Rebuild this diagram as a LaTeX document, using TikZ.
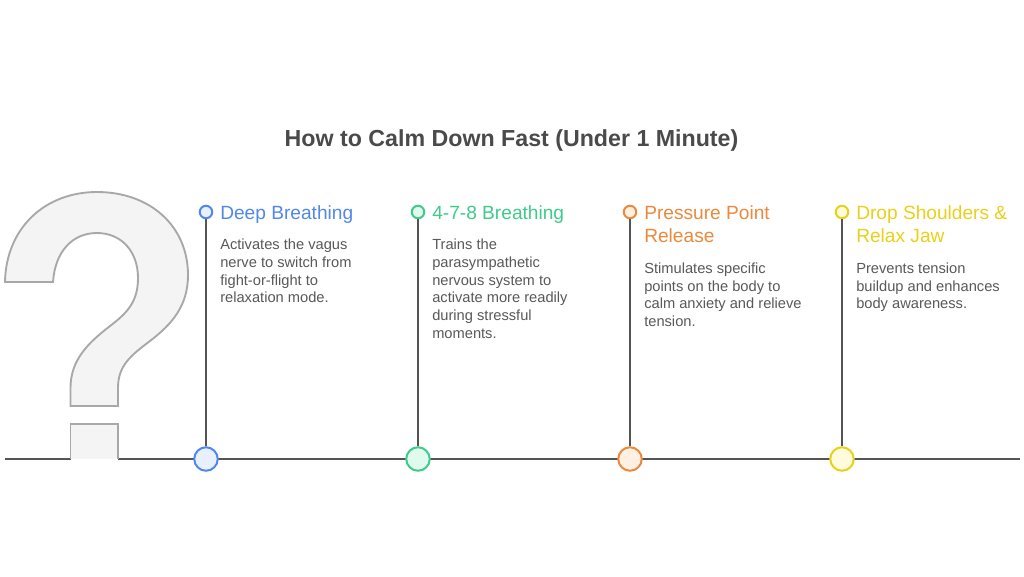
\documentclass[tikz,border=0pt]{standalone}
\usepackage{fontspec}
\setmainfont{Liberation Sans}
\definecolor{ink}{HTML}{555555}
\definecolor{txt}{HTML}{595959}
\definecolor{ttl}{HTML}{4A4A4A}
\definecolor{qfill}{HTML}{F4F4F4}
\definecolor{qline}{HTML}{A8A8A8}
\definecolor{cA}{HTML}{5288EC}\definecolor{fA}{HTML}{E8F0FE}
\definecolor{cB}{HTML}{3FCB8B}\definecolor{fB}{HTML}{E0FBEE}
\definecolor{cC}{HTML}{EA8A3C}\definecolor{fC}{HTML}{FFF0E3}
\definecolor{cD}{HTML}{E9D11B}\definecolor{fD}{HTML}{FFFBDC}
\tikzset{
  line/.style={draw=ink,line width=1.7pt},
  bigdot/.style={circle,minimum size=23.5*0.75pt,inner sep=0pt,line width=1.5pt},
  smalldot/.style={circle,minimum size=12.5*0.75pt,inner sep=0pt,line width=1.5pt},
  head/.style={anchor=north west,inner sep=0pt,align=left,font=\fontsize{14.35pt}{17.7pt}\selectfont},
  body/.style={anchor=north west,inner sep=0pt,align=left,text=txt,font=\fontsize{11pt}{13.25pt}\selectfont},
  qshape/.style={fill=qfill,draw=qline,line width=1.4pt,line join=miter}
}
\begin{document}
\begin{tikzpicture}[x=0.75pt,y=-0.75pt]
\useasboundingbox[fill=white] (0,0) rectangle (1024,576);
% baseline
\coordinate (bl) at (5,459);
\coordinate (q1) at (71,459);
\coordinate (q2) at (118,459);
\coordinate (br) at (1020,459);
\draw[line] (bl) -- (q1);
\draw[line] (q2) -- (br);
% question mark
\path[qshape] (5,282) .. controls (6,228) and (45,192) .. (97,192)
  .. controls (150,192) and (188,226) .. (188,275)
  .. controls (188,306) and (172,324) .. (150,341)
  .. controls (130,356) and (118,366) .. (118,388)
  -- (118,406) -- (70.5,406) -- (70.5,388)
  .. controls (70.5,360) and (88,343) .. (110,326)
  .. controls (127,313) and (138,302) .. (138,278)
  .. controls (138,251) and (121,233) .. (97,233)
  .. controls (72,233) and (55,252) .. (53,282) -- cycle;
\fill[qfill] (70.5,424) rectangle (118,459);
\draw[qline,line width=1.4pt] (70.5,459) -- (70.5,424) -- (118,424) -- (118,459);
% title
\node[font=\fontsize{17.4pt}{22pt}\selectfont\bfseries,text=ttl,inner sep=0pt] (title) at (511.5,140) {How to Calm Down Fast (Under 1 Minute)};
% column 1
\node[bigdot,draw=cA,fill=fA] (b1) at (206,459) {};
\node[smalldot,draw=cA,fill=fA] (s1) at (206,212) {};
\draw[line] (s1) -- (b1);
\node[head,text=cA] (h1) at (220,205) {Deep Breathing};
\node[body] (t1) at (220,239) {Activates the vagus\\nerve to switch from\\fight-or-flight to\\relaxation mode.};
% column 2
\node[bigdot,draw=cB,fill=fB] (b2) at (418,459) {};
\node[smalldot,draw=cB,fill=fB] (s2) at (418,212) {};
\draw[line] (s2) -- (b2);
\node[head,text=cB] (h2) at (432,205) {4-7-8 Breathing};
\node[body] (t2) at (432,239) {Trains the\\parasympathetic\\nervous system to\\activate more readily\\during stressful\\moments.};
% column 3
\node[bigdot,draw=cC,fill=fC] (b3) at (630,459) {};
\node[smalldot,draw=cC,fill=fC] (s3) at (630,212) {};
\draw[line] (s3) -- (b3);
\node[head,text=cC] (h3) at (644,205) {Pressure Point\\Release};
\node[body] (t3) at (644,262.5) {Stimulates specific\\points on the body to\\calm anxiety and relieve\\tension.};
% column 4
\node[bigdot,draw=cD,fill=fD] (b4) at (842,459) {};
\node[smalldot,draw=cD,fill=fD] (s4) at (842,212) {};
\draw[line] (s4) -- (b4);
\node[head,text=cD] (h4) at (856,205) {Drop Shoulders \&\\Relax Jaw};
\node[body] (t4) at (856,262.5) {Prevents tension\\buildup and enhances\\body awareness.};
\end{tikzpicture}
\end{document}
